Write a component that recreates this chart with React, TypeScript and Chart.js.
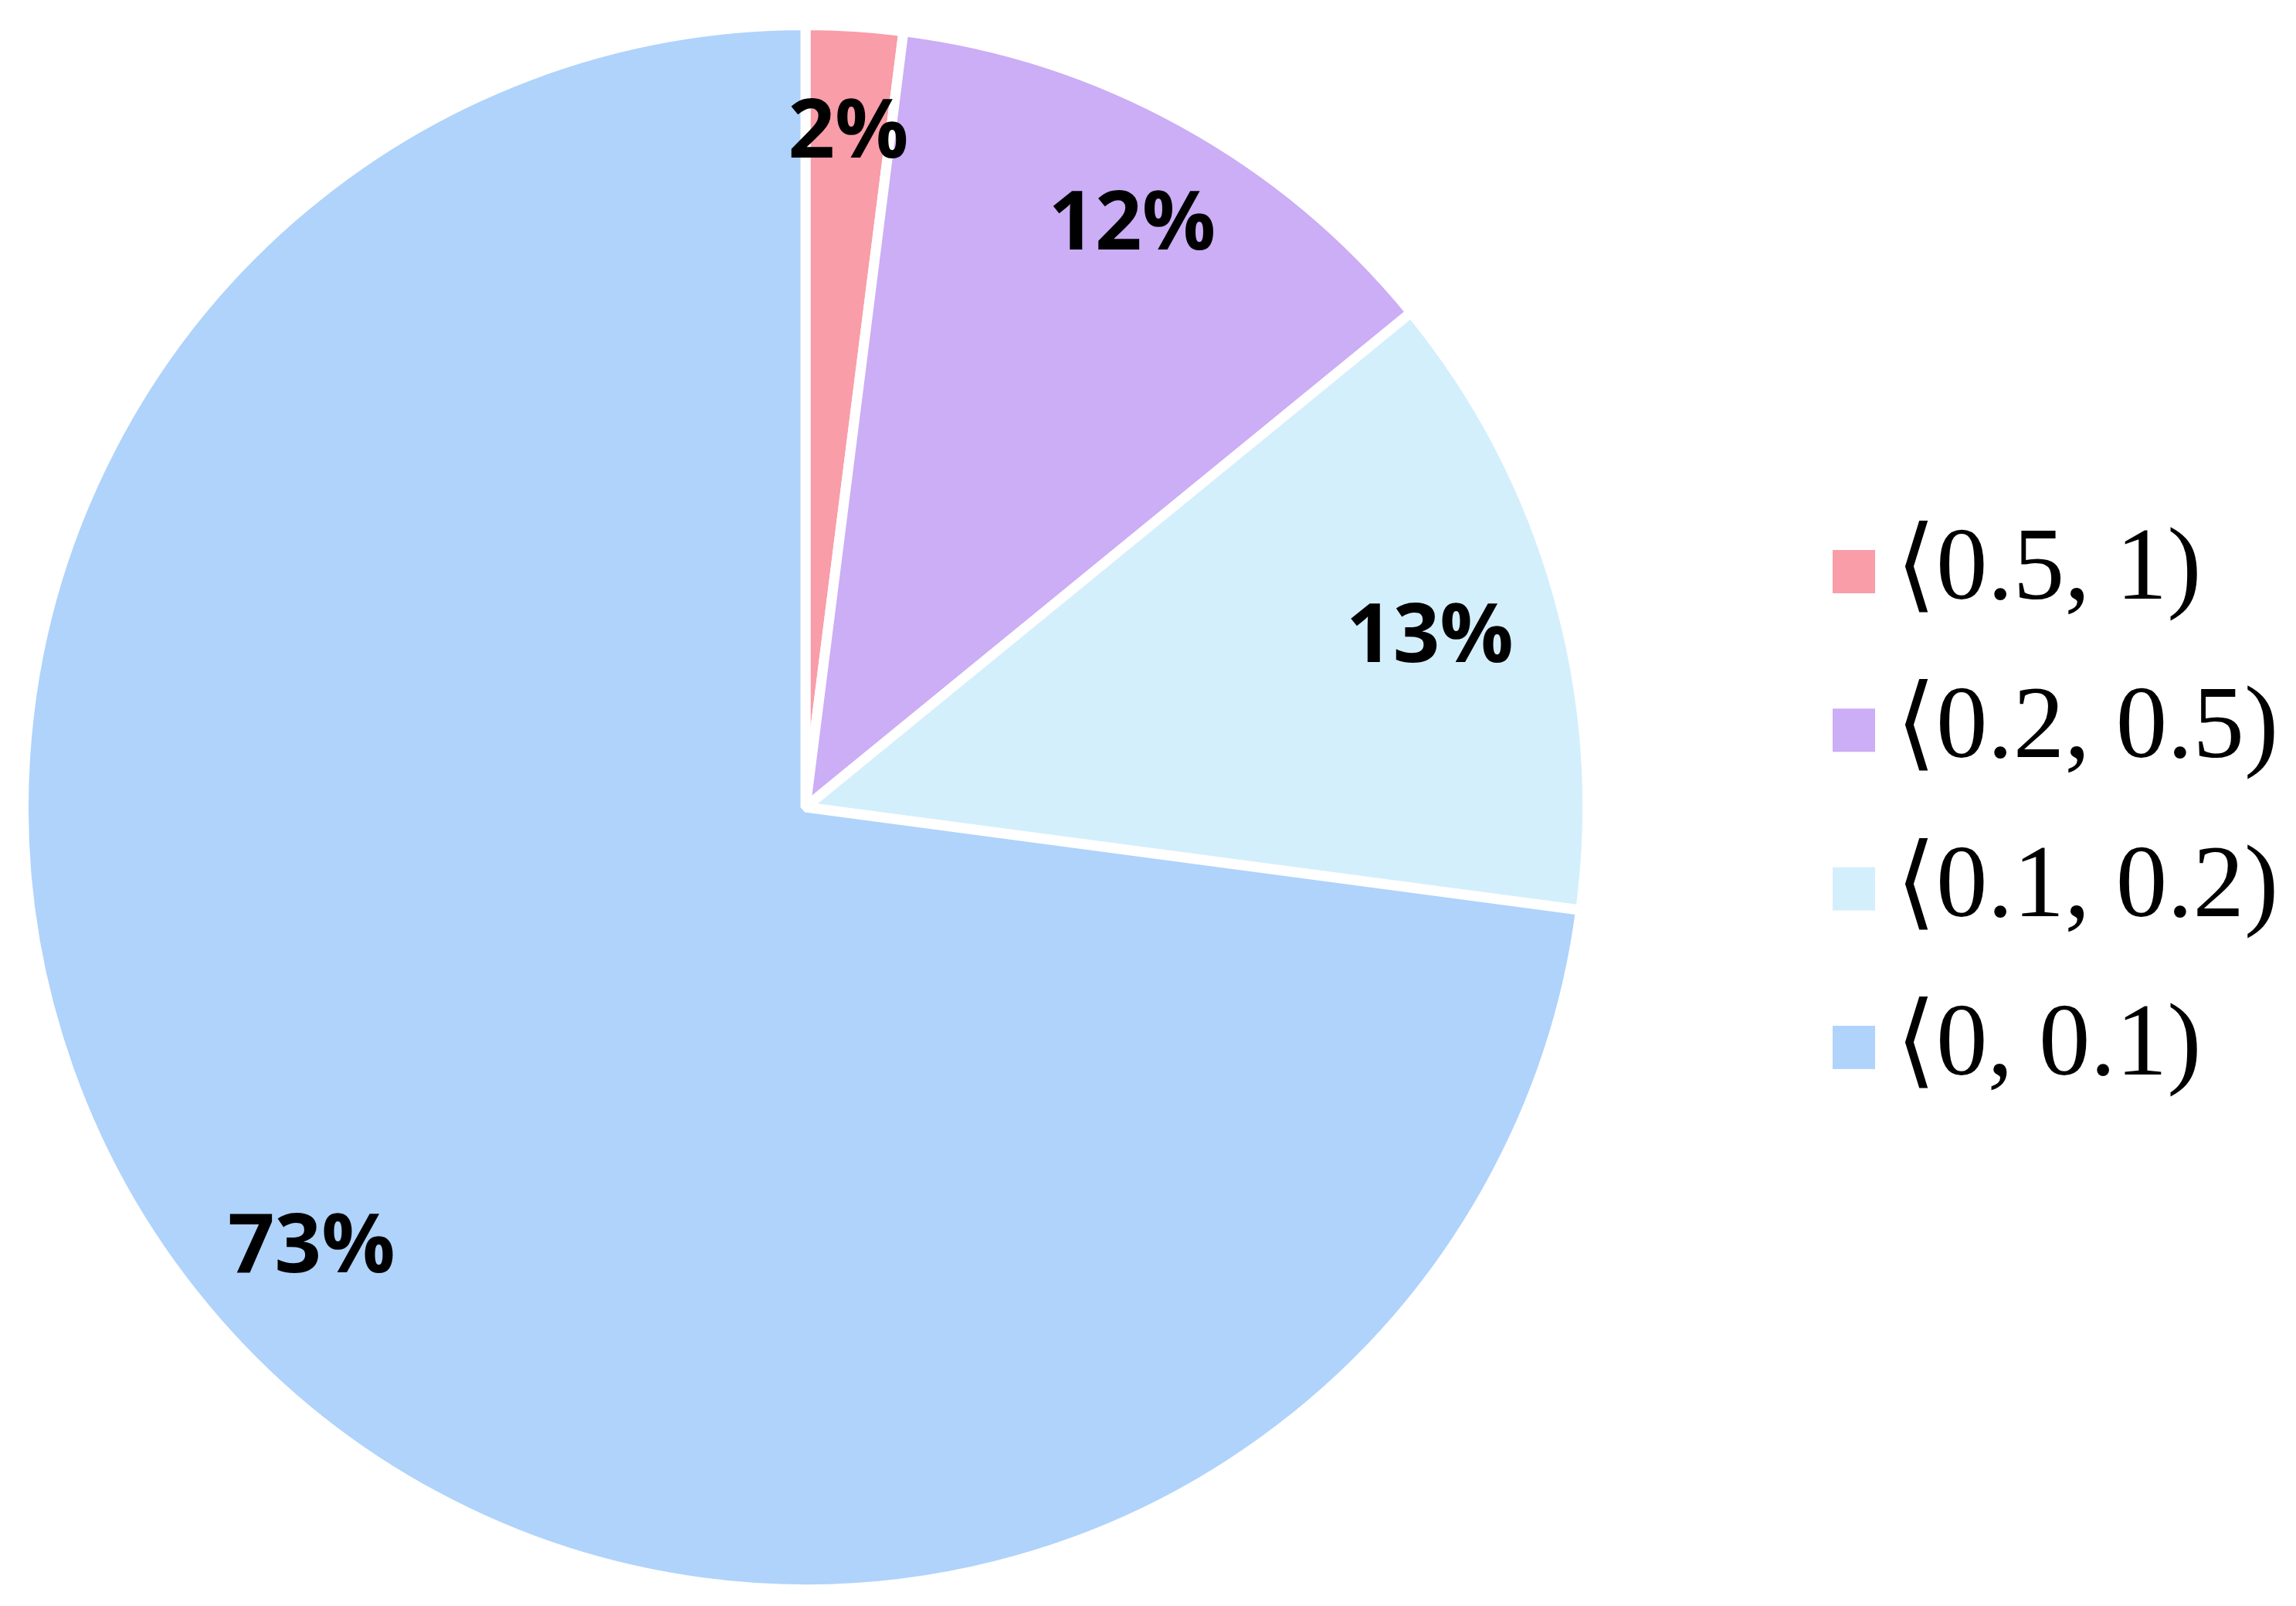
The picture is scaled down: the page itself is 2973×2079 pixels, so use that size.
import React, { useEffect, useRef } from 'react';
import { Chart, registerables } from 'chart.js';

Chart.register(...registerables);

// ---- data ----
const categories = ['⟨0.5, 1)', '⟨0.2, 0.5)', '⟨0.1, 0.2)', '⟨0, 0.1)'];
const shares = [2.0, 12.1, 13.0, 72.9];
const colors = ['#F99DA8', '#CBAEF5', '#D4EFFC', '#AFD3FB'];

// label distance from centre, as a fraction of the radius (style)
const labelRadius = [0.874, 0.862, 0.83, 0.84];

const W = 2973;
const H = 2079;

const sliceLabels = {
  id: 'sliceLabels',
  afterDatasetsDraw(chart: any) {
    const ctx = chart.ctx;
    const meta = chart.getDatasetMeta(0);
    const data = chart.data.datasets[0].data as number[];
    const size = 106;
    ctx.save();
    ctx.font = `bold ${size}px "Open Sans"`;
    ctx.fillStyle = '#000';
    ctx.textAlign = 'center';
    ctx.textBaseline = 'alphabetic';
    meta.data.forEach((arc: any, i: number) => {
      const p = arc.getProps(['x', 'y', 'startAngle', 'endAngle', 'outerRadius'], true);
      const mid = (p.startAngle + p.endAngle) / 2;
      const r = p.outerRadius * labelRadius[i];
      const cx = p.x + Math.cos(mid) * r;
      const cy = p.y + Math.sin(mid) * r;
      ctx.fillText(Math.round(data[i]) + '%', cx, cy + (size * 0.714) / 2 + 4);
    });
    ctx.restore();
  },
};

const sideLegend = {
  id: 'sideLegend',
  afterDraw(chart: any) {
    const ctx = chart.ctx;
    const labels = chart.data.labels as string[];
    const bg = chart.data.datasets[0].backgroundColor as string[];
    const boxX = 2373;
    const boxW = 55;
    const boxH = 56;
    const firstY = 740;
    const step = 205.3;
    const textX = 2455;
    ctx.save();
    ctx.font = '133px "Liberation Serif", "DejaVu Serif", serif';
    ctx.textAlign = 'left';
    ctx.textBaseline = 'alphabetic';
    labels.forEach((lab, i) => {
      const cy = firstY + i * step;
      ctx.fillStyle = bg[i];
      ctx.fillRect(boxX, cy - boxH / 2, boxW, boxH);
      ctx.fillStyle = '#000';
      ctx.fillText(lab, textX, cy + 35);
    });
    ctx.restore();
  },
};

export default function App() {
  const ref = useRef<HTMLCanvasElement | null>(null);
  useEffect(() => {
    if (!ref.current) return;
    const chart = new Chart(ref.current, {
      type: 'pie',
      data: {
        labels: categories,
        datasets: [
          {
            data: shares,
            backgroundColor: colors,
            borderColor: '#ffffff',
            borderWidth: 13,
          },
        ],
      },
      options: {
        responsive: false,
        devicePixelRatio: 1,
        animation: false,
        layout: { padding: { left: 24, top: 26, bottom: 15, right: 911 } },
        plugins: {
          legend: { display: false },
          tooltip: { enabled: false },
        },
      },
      plugins: [sliceLabels, sideLegend],
    });
    return () => chart.destroy();
  }, []);
  return (
    <div style={{ position: 'absolute', left: 0, top: 0, width: W, height: H, background: '#fff' }}>
      <canvas ref={ref} width={W} height={H} style={{ width: W, height: H, display: 'block' }} />
    </div>
  );
}
